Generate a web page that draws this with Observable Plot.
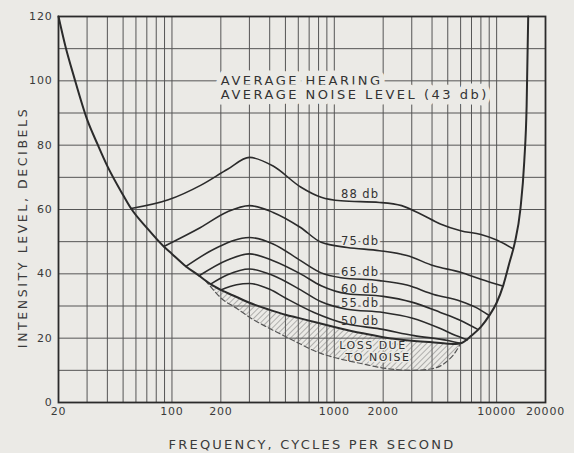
<!DOCTYPE html>
<html><head><meta charset="utf-8">
<script src="https://cdn.jsdelivr.net/npm/d3@7"></script>
<script src="https://cdn.jsdelivr.net/npm/@observablehq/plot@0.6"></script>
<style>
html,body{margin:0;padding:0;background:#ebeae6;}
#chart svg{display:block;}
</style>
</head><body><div id="chart"></div>
<script>
// Masked threshold (average hearing with 43 db noise)
const maskedFreq = [20, 22, 25, 30, 35, 40, 50, 56, 70, 89, 100, 122, 147, 160, 173, 200, 250, 300, 400, 500, 600, 800, 1000, 1500, 2000, 3000, 4000, 5000, 5600, 6000, 7000, 8000, 9000, 10000, 11000, 12000, 12900, 14000, 14800, 15300, 15650];
const maskedDb   = [120, 111, 101, 88, 80, 73.5, 64.5, 60.3, 54.3, 48.5, 46.2, 42.3, 39.4, 38, 36.8, 35, 32.8, 31, 28.8, 27.3, 26.3, 24.7, 23.5, 21.5, 20.3, 19.2, 18.7, 18.3, 18.2, 18.4, 20.8, 23.5, 27, 31, 36.5, 43.5, 49.4, 60, 75, 92, 120];
// Normal threshold (dashed, lower edge of "loss due to noise")
const normalFreq = [160, 173, 200, 250, 300, 400, 500, 600, 800, 1000, 1500, 2000, 3000, 4000, 5000, 5600, 6000];
const normalDb   = [38, 36, 32.5, 29.3, 26.5, 23, 20.5, 18.5, 15.5, 14, 12, 10.7, 10, 10.5, 13, 15.8, 18.4];
// Loudness contours
const l88f = [56, 95, 150, 220, 300, 420, 620, 830, 1100, 1900, 2600, 3400, 4500, 6000, 8000, 10000, 12600];
const l88  = [60.3, 63, 67.5, 72.5, 76.2, 73.5, 67, 63.8, 62.7, 62.2, 61.2, 58.6, 55.5, 53.4, 52.2, 50.5, 47.8];
const l75f = [89, 150, 220, 300, 420, 620, 830, 1200, 1900, 2800, 4100, 6000, 8000, 10900];
const l75  = [48.5, 54.4, 59.3, 61.2, 59.1, 54.4, 49.8, 48.2, 47.2, 45.7, 42.5, 40.5, 38.3, 36.2];
const l65f = [122, 190, 300, 420, 620, 830, 1100, 1900, 2800, 4100, 6000, 7500, 8900];
const l65  = [42.3, 48.2, 51.3, 49.3, 44.1, 40.3, 38.8, 37.9, 36.5, 33.6, 31.5, 29.5, 27.2];
const l60f = [147, 220, 300, 420, 620, 830, 1200, 2000, 3000, 4500, 6000, 7600];
const l60  = [39.4, 44.3, 46.2, 44.1, 40, 36.3, 33.8, 33, 31.2, 28, 25.5, 22.8];
const l55f = [173, 220, 300, 420, 620, 830, 1200, 2000, 3000, 4500, 5600, 6600];
const l55  = [36.8, 39.7, 41.5, 39.5, 35, 31.3, 29, 28, 26.3, 23, 20.8, 19.5];
const l50f = [200, 250, 300, 400, 500, 750, 1200, 1900, 3100, 5000, 6000];
const l50  = [35, 36.6, 37, 35.2, 32.5, 28, 24.4, 22.9, 20.8, 19.3, 18.4];

const curveNames = ["88 db", "75 db", "65 db", "60 db", "55 db", "50 db"];
const curveLabelDb = [64.6, 50, 40.4, 35.2, 30.8, 25.3];
const curveLabelFreq = [1440, 1440, 1440, 1440, 1440, 1440];

const xTicks = [20, 50, 100, 200, 500, 1000, 2000, 5000, 10000, 20000];
const yTicks = [0, 20, 40, 60, 80, 100, 120];
const gridFreq = [20,30,40,50,60,70,80,90,100,200,300,400,500,600,700,800,900,1000,2000,3000,4000,5000,6000,7000,8000,9000,10000];
const gridDb = [0,10,20,30,40,50,60,70,80,90,100,110,120];

const titleLines = ["AVERAGE HEARING", "AVERAGE NOISE LEVEL (43 db)"];
const titleFreq = [200, 200];
const titleDb = [100, 95.6];
const lossLines = ["LOSS DUE", "TO NOISE"];
const lossFreq = [1730, 1860];
const lossDb = [17.7, 14];

const BG = "#ebeae6";
const INK = "#2b2b2b";

const toRows = (fs, vs) => fs.map((f, i) => ({f, v: vs[i]}));
const masked = toRows(maskedFreq, maskedDb);
const normal = toRows(normalFreq, normalDb);
const loss = normalFreq.map((f, i) => ({f, n: normalDb[i], m: maskedDb[maskedFreq.indexOf(f)]}));
const contours = [[l88f,l88],[l75f,l75],[l65f,l65],[l60f,l60],[l55f,l55],[l50f,l50]].map(([a,b]) => toRows(a,b));
const labelsData = curveNames.map((t, i) => ({t, f: curveLabelFreq[i], v: curveLabelDb[i]}));
const titleData = titleLines.map((t, i) => ({t, f: titleFreq[i], v: titleDb[i]}));
const lossData = lossLines.map((t, i) => ({t, f: lossFreq[i], v: lossDb[i]}));

const chart = Plot.plot({
  width: 574, height: 453,
  marginLeft: 58, marginRight: 29, marginTop: 16, marginBottom: 51,
  style: {background: BG, fontFamily: "DejaVu Sans", fontSize: "11px", color: "#3a3a3a"},
  x: {type: "log", domain: [20, 20000]},
  y: {domain: [0, 120]},
  marks: [
    Plot.ruleX(gridFreq, {x: d => d, stroke: "#555", strokeWidth: 1}),
    Plot.ruleY(gridDb, {y: d => d, stroke: "#555", strokeWidth: 1}),
    Plot.text(titleData, {x: "f", y: "v", text: "t", textAnchor: "start", fontSize: 13, fill: "#333", stroke: BG, strokeWidth: 11}),
    Plot.text(labelsData, {x: "f", y: "v", text: "t", fontSize: 11.5, fill: "#333", stroke: BG, strokeWidth: 5}),
    Plot.areaY(loss, {x: "f", y1: "n", y2: "m", fill: "url(#hatch)", curve: "monotone-x"}),
    Plot.text(lossData, {x: "f", y: "v", text: "t", fontSize: 11, fill: "#333", stroke: BG, strokeWidth: 3}),
    Plot.line(normal, {x: "f", y: "v", stroke: "#555", strokeWidth: 1.2, strokeDasharray: "5,3", curve: "monotone-x"}),
    ...contours.map(c => Plot.line(c, {x: "f", y: "v", stroke: INK, strokeWidth: 1.6, curve: "monotone-x"})),
    Plot.line(masked, {x: "f", y: "v", stroke: INK, strokeWidth: 2, curve: "monotone-x"}),
    Plot.axisX({ticks: xTicks, tickSize: 0, tickPadding: 5, tickFormat: d => String(d), label: "FREQUENCY, CYCLES PER SECOND", labelAnchor: "center", labelArrow: "none", labelOffset: 46, fontSize: 11}),
    Plot.axisY({ticks: yTicks, tickSize: 0, tickPadding: 6, label: "INTENSITY LEVEL, DECIBELS", labelAnchor: "center", labelArrow: "none", labelOffset: 40, fontSize: 11}),
    Plot.frame({stroke: INK, strokeWidth: 1.8})
  ]
});

const svg = d3.select(chart);
const defs = svg.insert("defs", ":first-child");
const pat = defs.append("pattern").attr("id", "hatch").attr("patternUnits", "userSpaceOnUse")
  .attr("width", 4).attr("height", 4).attr("patternTransform", "rotate(45)");
pat.append("line").attr("x1", 0).attr("y1", 0).attr("x2", 0).attr("y2", 4).attr("stroke", "#666").attr("stroke-width", 0.9);

const byText = list => svg.selectAll("text").filter(function() { return list.includes(this.textContent); });
byText(titleLines).style("letter-spacing", "2.5px");
byText(curveNames).style("letter-spacing", "1px");
byText(lossLines).style("letter-spacing", "1.5px");
svg.selectAll('g[aria-label="x-axis tick label"] text, g[aria-label="y-axis tick label"] text').style("letter-spacing", "0.8px");
svg.selectAll('g[aria-label="x-axis label"] text').style("font-size", "13px").style("letter-spacing", "2.2px").attr("dx", 10);
svg.selectAll('g[aria-label="y-axis label"] text').style("font-size", "12.5px").style("letter-spacing", "2.6px").attr("dx", -18);

document.getElementById("chart").appendChild(chart);
</script>
</body></html>
